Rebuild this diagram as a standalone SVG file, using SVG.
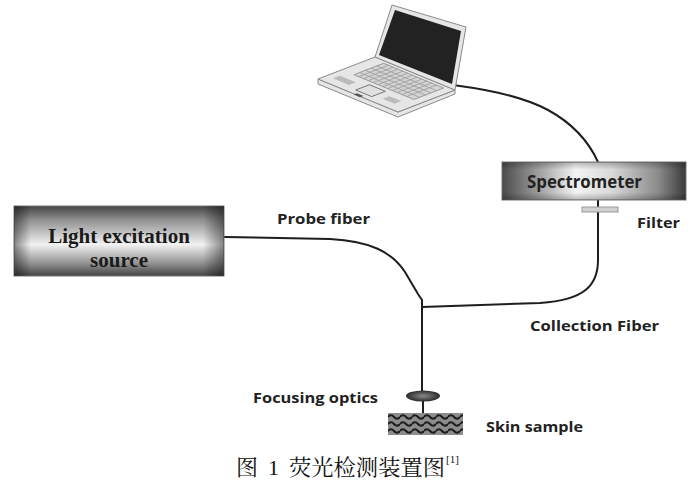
<svg xmlns="http://www.w3.org/2000/svg" width="700" height="482" viewBox="0 0 700 482">
<style>
.lbl{font-family:"Open Sans","Liberation Sans",sans-serif;font-weight:700;font-size:15px;fill:#222}
.spec{font-family:"Open Sans","Liberation Sans",sans-serif;font-weight:700;font-size:17px;fill:#222}
.ser{font-family:"Liberation Serif","Times New Roman",serif;font-weight:bold;font-size:21px;fill:#1a1a1a}
.cap{font-family:"Liberation Serif","Noto Serif CJK SC","Noto Sans CJK SC",serif;font-size:22px;fill:#111}
.sup{font-family:"Liberation Serif","Times New Roman",serif;font-size:11px;fill:#111}
.fiber{fill:none;stroke:#1e1e1e;stroke-width:2;stroke-linejoin:round;stroke-linecap:round}
.lap{fill:#e6e6e6;stroke:#8a8a8a;stroke-width:1}
.key{fill:none;stroke:#9a9a9a;stroke-width:0.8}
</style>
<defs>
<linearGradient id="gv" x1="0" y1="0" x2="0" y2="1">
<stop offset="0" stop-color="#444"/>
<stop offset="0.2" stop-color="#909090"/>
<stop offset="0.55" stop-color="#f2f2f2"/>
<stop offset="0.8" stop-color="#999"/>
<stop offset="1" stop-color="#444"/>
</linearGradient>
<linearGradient id="gh" x1="0" y1="0" x2="1" y2="0">
<stop offset="0" stop-color="#000" stop-opacity="0.45"/>
<stop offset="0.08" stop-color="#000" stop-opacity="0"/>
<stop offset="0.9" stop-color="#000" stop-opacity="0"/>
<stop offset="1" stop-color="#000" stop-opacity="0.45"/>
</linearGradient>
<linearGradient id="gs" x1="0" y1="0" x2="1" y2="0">
<stop offset="0" stop-color="#4a4a4a"/>
<stop offset="0.4" stop-color="#f4f4f4"/>
<stop offset="0.6" stop-color="#d8d8d8"/>
<stop offset="0.85" stop-color="#8a8a8a"/>
<stop offset="1" stop-color="#3a3a3a"/>
</linearGradient>
<linearGradient id="gsv" x1="0" y1="0" x2="0" y2="1">
<stop offset="0" stop-color="#000" stop-opacity="0.25"/>
<stop offset="0.2" stop-color="#000" stop-opacity="0"/>
<stop offset="0.8" stop-color="#000" stop-opacity="0"/>
<stop offset="1" stop-color="#000" stop-opacity="0.25"/>
</linearGradient>
<radialGradient id="gl" cx="0.5" cy="0.5" r="0.5">
<stop offset="0" stop-color="#8a8a8a"/>
<stop offset="1" stop-color="#2a2a2a"/>
</radialGradient>
<pattern id="wave" x="388" y="413" width="12" height="7" patternUnits="userSpaceOnUse">
<rect width="12" height="7" fill="#8c8c8c"/>
<path d="M0,4 Q3,0.5 6,4 T12,4" fill="none" stroke="#1c1c1c" stroke-width="2"/>
</pattern>
</defs>

<g id="connectors">
<path class="fiber" d="M437,83 C480,88 520,95 548,110 C570,122 588,140 598,162"/>
<path class="fiber" d="M224,237 L330,239 C370,241 392,252 405,272 L418,294 L422,300 L422,391"/>
<path class="fiber" d="M422,307 L540,303 C585,300 598,285 598,260 L598,200"/>
<path class="fiber" d="M423,401 L423,413"/>
</g>

<g id="laptop">
<polygon class="lap" points="318,79 398,112 455,90 455,94 398,117 318,84" fill="#cfcfcf"/>
<polygon class="lap" points="318,79 375,57 455,90 398,112"/>
<g transform="matrix(80 33 57 -22 318 79)">
<rect x="0.15" y="0.42" width="0.75" height="0.52" fill="#d4d4d4" stroke="#8a8a8a" stroke-width="0.8" vector-effect="non-scaling-stroke"/>
<path class="key" vector-effect="non-scaling-stroke" d="M0.15,0.52 H0.9 M0.15,0.62 H0.9 M0.15,0.72 H0.9 M0.15,0.82 H0.9 M0.21,0.42 V0.94 M0.27,0.42 V0.94 M0.33,0.42 V0.94 M0.39,0.42 V0.94 M0.45,0.42 V0.94 M0.51,0.42 V0.94 M0.57,0.42 V0.94 M0.63,0.42 V0.94 M0.69,0.42 V0.94 M0.75,0.42 V0.94 M0.81,0.42 V0.94"/>
<rect x="0.4" y="0.1" width="0.2" height="0.24" fill="#e0e0e0" stroke="#777" stroke-width="1" vector-effect="non-scaling-stroke"/>
<rect x="0.08" y="0.15" width="0.2" height="0.12" fill="#bbb" stroke="none"/>
<rect x="0.7" y="0.15" width="0.15" height="0.12" fill="#bbb" stroke="none"/>
<rect x="0.46" y="-0.02" width="0.08" height="0.06" fill="#555" stroke="none"/>
</g>
<polygon class="lap" points="375,57 455,90 466,27 392,5" fill="#dcdcdc"/>
<polygon points="379,55 452,84 461,31 395,10" fill="#222"/>
</g>

<g id="light-source">
<rect x="14" y="206" width="210" height="70" fill="url(#gv)" stroke="#777" stroke-width="1"/>
<rect x="14" y="206" width="210" height="70" fill="url(#gh)"/>
<text class="ser" x="119" y="243" text-anchor="middle">Light excitation</text>
<text class="ser" x="119" y="267" text-anchor="middle">source</text>
</g>

<g id="spectrometer">
<rect x="502" y="162" width="184" height="38" fill="url(#gs)" stroke="#777" stroke-width="1"/>
<rect x="502" y="162" width="184" height="38" fill="url(#gsv)"/>
<text class="spec" x="527" y="188" textLength="115" lengthAdjust="spacingAndGlyphs">Spectrometer</text>
</g>

<g id="filter">
<rect x="582" y="207" width="36" height="5" fill="#d0d0d0" stroke="#999" stroke-width="1"/>
<text class="lbl" x="637" y="228" textLength="43" lengthAdjust="spacingAndGlyphs">Filter</text>
</g>

<g id="focusing-optics">
<ellipse cx="423" cy="396" rx="17" ry="5.5" fill="url(#gl)"/>
<text class="lbl" x="253" y="403" textLength="125" lengthAdjust="spacingAndGlyphs">Focusing optics</text>
</g>

<g id="skin-sample">
<rect x="388" y="413" width="75" height="22" fill="url(#wave)"/>
<text class="lbl" x="486" y="432" textLength="97" lengthAdjust="spacingAndGlyphs">Skin sample</text>
</g>

<g id="labels">
<text class="lbl" x="277" y="224" textLength="93" lengthAdjust="spacingAndGlyphs">Probe fiber</text>
<text class="lbl" x="530" y="331" textLength="129" lengthAdjust="spacingAndGlyphs">Collection Fiber</text>
</g>

<g id="caption">
<text class="cap" x="236" y="475">图</text>
<text class="cap" x="268" y="475">1</text>
<text class="cap" x="289" y="475" textLength="156" lengthAdjust="spacingAndGlyphs">荧光检测装置图</text>
<text class="sup" x="446" y="463">[1]</text>
</g>
</svg>
